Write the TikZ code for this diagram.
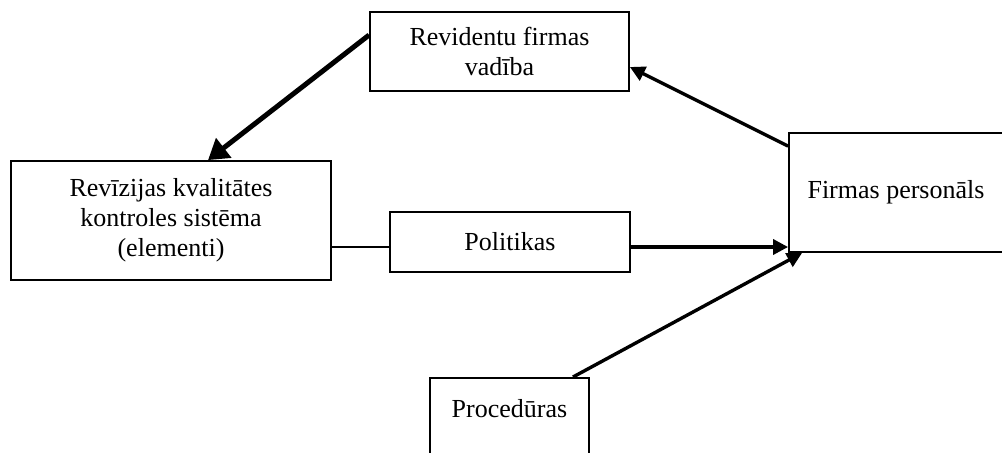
\documentclass[tikz,border=0pt]{standalone}
\usepackage{fontspec}
\setmainfont{Liberation Serif}
\usepackage{tikz}
\usetikzlibrary{arrows.meta}

\begin{document}
\begin{tikzpicture}[x=.5pt,y=-.5pt,
  blok/.style={draw,line width=.9pt,align=center,font=\fontsize{13}{15}\selectfont},
  bulta/.style={line width=1.7pt,-{Triangle[length=7.5pt,width=7.5pt]}}]
\useasboundingbox (0,0) rectangle (1002,452);
\clip (0,0) rectangle (1002,452);
% boxes
\node[blok,minimum width=129.5pt,minimum height=39.5pt] (vadiba) at (499.5,51.5) {Revidentu firmas\\vadība};
\node[blok,minimum width=160pt,minimum height=59.5pt] (sistema) at (171,220.5) {Revīzijas kvalitātes\\kontroles sistēma\\(elementi)};
\node[blok,minimum width=120pt,minimum height=30pt] (politikas) at (510,242) {Politikas};
\node[blok,minimum width=107pt,minimum height=59.5pt] (personals) at (896,192.5) {Firmas personāls};
\node[blok,anchor=north,minimum width=79.5pt,text height=16.7pt,text depth=30pt] (proceduras) at (509.5,377) {Procedūras};
% connectors
\draw[line width=2.5pt,-{Triangle[length=10pt,width=12pt]}] ([yshift=8.25pt]vadiba.west) -- ([xshift=18.5pt]sistema.north);
\draw[bulta] ([yshift=-7pt]personals.north west) -- ([yshift=-7.75pt]vadiba.east);
\draw[line width=.9pt] ([yshift=-2.5pt]politikas.west) -- ([yshift=-2.5pt]politikas.west -| sistema.east);
\draw[bulta] ([yshift=-2.5pt]politikas.east) -- ([yshift=-2.5pt]politikas.east -| personals.west);
\draw[bulta] ([xshift=31.75pt]proceduras.north) -- ([xshift=7pt]personals.south west);
\end{tikzpicture}
\end{document}
